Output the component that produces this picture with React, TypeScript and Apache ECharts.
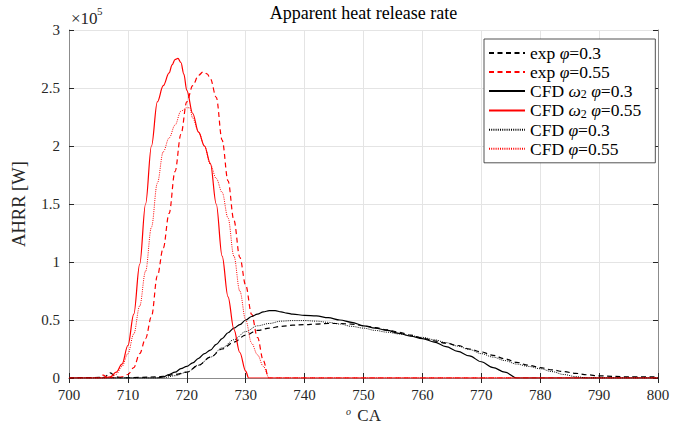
import { useEffect, useRef } from "react";
import * as echarts from "echarts";

// Values in units of 1e5 W, crank angle in degrees
const expLeanX = [700, 706, 707, 708, 709, 712, 715, 716, 718, 720, 722, 724, 726, 728, 730, 732, 734, 736, 738, 740, 742, 744, 746, 748, 750, 752, 754, 756, 758, 760, 762, 764, 766, 768, 770, 772, 774, 776, 778, 780, 782, 784, 786, 788, 790, 795, 800];
const expLeanY = [0, 0.005, 0.045, 0.01, 0, 0.005, 0.01, 0.015, 0.03, 0.05, 0.11, 0.18, 0.25, 0.31, 0.37, 0.41, 0.43, 0.445, 0.455, 0.46, 0.465, 0.47, 0.47, 0.465, 0.45, 0.435, 0.415, 0.395, 0.37, 0.345, 0.32, 0.3, 0.28, 0.25, 0.225, 0.195, 0.165, 0.135, 0.11, 0.09, 0.07, 0.055, 0.04, 0.028, 0.018, 0.01, 0.01];

const expRichX = [700, 705, 705.8, 706.5, 708, 709, 710, 711, 712, 713, 714, 715, 716, 717, 718, 719, 720, 721, 722, 722.8, 723.5, 724, 725, 726, 727, 728, 729, 730, 731, 732, 733, 733.9, 800];
const expRichY = [0, 0, 0.025, 0.005, 0, 0.01, 0.03, 0.09, 0.21, 0.34, 0.53, 0.88, 1.12, 1.42, 1.78, 2.1, 2.38, 2.52, 2.61, 2.64, 2.62, 2.58, 2.42, 2.05, 1.7, 1.36, 1.04, 0.8, 0.55, 0.35, 0.15, 0, 0];

const cfdW2LeanX = [700, 715, 716, 717, 718, 719, 720, 721, 722, 723, 724, 725, 726, 727, 728, 729, 730, 731, 732, 733, 734, 735, 736, 737, 738, 740, 742, 744, 746, 748, 750, 752, 754, 756, 758, 760, 762, 764, 766, 768, 770, 772, 774, 776, 800];
const cfdW2LeanY = [0, 0, 0.01, 0.03, 0.05, 0.08, 0.1, 0.13, 0.17, 0.21, 0.24, 0.29, 0.34, 0.39, 0.43, 0.46, 0.5, 0.53, 0.55, 0.57, 0.58, 0.58, 0.57, 0.56, 0.55, 0.54, 0.535, 0.52, 0.5, 0.48, 0.45, 0.43, 0.41, 0.385, 0.36, 0.34, 0.31, 0.27, 0.23, 0.19, 0.14, 0.09, 0.05, 0, 0];

const cfdW2RichX = [700, 706, 707, 708, 709, 710, 711, 712, 713, 714, 715, 716, 717, 717.5, 718, 718.5, 719, 719.5, 720, 721, 722, 723, 724, 725, 726, 727, 728, 729, 730, 730.5, 800];
const cfdW2RichY = [0, 0, 0.01, 0.05, 0.12, 0.28, 0.55, 0.98, 1.5, 2.0, 2.38, 2.52, 2.63, 2.7, 2.745, 2.755, 2.72, 2.62, 2.48, 2.28, 2.12, 2.0, 1.85, 1.5, 1.05, 0.7, 0.42, 0.22, 0.06, 0, 0];

const cfdLeanX = [700, 716, 718, 720, 722, 724, 726, 728, 730, 732, 734, 736, 738, 740, 742, 744, 746, 748, 750, 752, 754, 756, 758, 760, 762, 764, 766, 768, 770, 772, 774, 776, 778, 780, 782, 784, 786, 788, 800];
const cfdLeanY = [0, 0, 0.02, 0.05, 0.11, 0.18, 0.26, 0.33, 0.4, 0.45, 0.47, 0.49, 0.495, 0.495, 0.49, 0.48, 0.465, 0.445, 0.43, 0.41, 0.395, 0.38, 0.365, 0.35, 0.33, 0.305, 0.275, 0.245, 0.21, 0.18, 0.15, 0.12, 0.1, 0.08, 0.055, 0.03, 0.012, 0, 0];

const cfdRichX = [700, 707, 708, 709, 710, 711, 712, 713, 714, 715, 716, 717, 718, 719, 720, 720.5, 721, 722, 723, 724, 725, 726, 727, 728, 729, 730, 731, 732, 733, 734, 800];
const cfdRichY = [0, 0, 0.03, 0.1, 0.21, 0.38, 0.62, 0.92, 1.3, 1.68, 1.95, 2.07, 2.18, 2.3, 2.33, 2.33, 2.24, 2.12, 2.0, 1.84, 1.72, 1.6, 1.38, 1.05, 0.75, 0.5, 0.3, 0.2, 0.1, 0, 0];

const seriesNames = [
  "exp φ=0.3",
  "exp φ=0.55",
  "CFD ω2 φ=0.3",
  "CFD ω2 φ=0.55",
  "CFD φ=0.3",
  "CFD φ=0.55",
];
const legendRich: Record<string, string> = {
  "exp φ=0.3": "{t|exp }{g|φ}{t|=0.3}",
  "exp φ=0.55": "{t|exp }{g|φ}{t|=0.55}",
  "CFD ω2 φ=0.3": "{t|CFD }{g|ω}{s|2}{t| }{g|φ}{t|=0.3}",
  "CFD ω2 φ=0.55": "{t|CFD }{g|ω}{s|2}{t| }{g|φ}{t|=0.55}",
  "CFD φ=0.3": "{t|CFD }{g|φ}{t|=0.3}",
  "CFD φ=0.55": "{t|CFD }{g|φ}{t|=0.55}",
};

const xTicks = { min: 700, max: 800, interval: 10 };
const yTicks = { min: 0, max: 3, interval: 0.5 };

const FONT = "'Liberation Serif', 'Times New Roman', serif";

function zip(xs: number[], ys: number[]) {
  return xs.map((x, i) => [x, ys[i]]);
}

export default function App() {
  const ref = useRef<HTMLDivElement>(null);
  useEffect(() => {
    if (!ref.current) return;
    const chart = echarts.init(ref.current, null, { renderer: "svg" });
    const axisLineStyle = { color: "#8c8c8c", width: 1 };
    const tickStyle = { color: "#262626", width: 1 };
    const dashed = [5, 3.5];
    const dotted = [1, 1.2];
    const mk = (name: string, xs: number[], ys: number[], color: string, type: any, width: number) => ({
      name,
      type: "line",
      data: zip(xs, ys),
      symbol: "none",
      smooth: 0.35,
      smoothMonotone: "x",
      lineStyle: { color, type, width },
      itemStyle: { color },
      xAxisIndex: 0,
      yAxisIndex: 0,
    });
    chart.setOption({
      animation: false,
      backgroundColor: "#ffffff",
      grid: { left: 69, right: 28, top: 30, bottom: 46, containLabel: false, outerBoundsMode: "none" },
      xAxis: [
        {
          type: "value",
          ...xTicks,
          position: "bottom",
          axisLine: { show: true, lineStyle: axisLineStyle },
          axisTick: { show: true, inside: true, length: 5, lineStyle: tickStyle },
          axisLabel: { color: "#262626", fontSize: 15, fontFamily: FONT, margin: 9 },
          splitLine: { show: true, lineStyle: { color: "#e4e4e4", width: 1 } },
          name: "{o|o}{t| CA}",
          nameLocation: "middle",
          nameGap: 16,
          nameTextStyle: {
            color: "#262626",
            fontFamily: FONT,
            rich: {
              o: { fontSize: 10, fontStyle: "italic", fontFamily: FONT, verticalAlign: "top", lineHeight: 17, color: "#262626", padding: [0, 2, 0, 0] },
              t: { fontSize: 17, fontFamily: FONT, lineHeight: 17, color: "#262626" },
            },
          },
        },
        {
          type: "value",
          ...xTicks,
          position: "top",
          axisLine: { show: true, lineStyle: axisLineStyle },
          axisTick: { show: true, inside: true, length: 5, lineStyle: tickStyle },
          axisLabel: { show: false },
          splitLine: { show: false },
        },
      ],
      yAxis: [
        {
          type: "value",
          ...yTicks,
          position: "left",
          axisLine: { show: true, lineStyle: axisLineStyle },
          axisTick: { show: true, inside: true, length: 5, lineStyle: tickStyle },
          axisLabel: { color: "#262626", fontSize: 15, fontFamily: FONT, margin: 9 },
          splitLine: { show: true, lineStyle: { color: "#e4e4e4", width: 1 } },
          name: "AHRR [W]",
          nameLocation: "middle",
          nameGap: 41,
          nameTextStyle: { color: "#262626", fontSize: 18.5, fontFamily: FONT },
        },
        {
          type: "value",
          ...yTicks,
          position: "right",
          axisLine: { show: true, lineStyle: axisLineStyle },
          axisTick: { show: true, inside: true, length: 5, lineStyle: tickStyle },
          axisLabel: { show: false },
          splitLine: { show: false },
        },
      ],
      legend: {
        orient: "vertical",
        left: 484,
        top: 39,
        padding: [5, 14, 5, 4],
        itemGap: 1,
        itemWidth: 36,
        itemHeight: 17,
        backgroundColor: "#ffffff",
        borderColor: "#262626",
        borderWidth: 0.8,
        itemStyle: { opacity: 0 },
        data: seriesNames,
        formatter: (n: string) => legendRich[n] || n,
        textStyle: {
          color: "#000",
          fontFamily: FONT,
          fontSize: 17.5,
          rich: {
            t: { fontFamily: FONT, fontSize: 17.5, color: "#000", lineHeight: 18.8 },
            g: { fontFamily: FONT, fontSize: 17.5, fontStyle: "italic", color: "#000", lineHeight: 18.8 },
            s: { fontFamily: FONT, fontSize: 12, color: "#000", verticalAlign: "bottom", lineHeight: 12 },
          },
        },
      },
      graphic: [
        {
          type: "text",
          x: 363.5,
          y: 13,
          style: {
            text: "Apparent heat release rate",
            align: "center",
            verticalAlign: "middle",
            fontFamily: FONT,
            fontSize: 18,
            fill: "#000",
          },
        },
        {
          type: "text",
          x: 71,
          y: 18,
          style: { text: "×10", align: "left", verticalAlign: "middle", fontFamily: FONT, fontSize: 17, fill: "#262626" },
        },
        {
          type: "text",
          x: 97,
          y: 11,
          style: { text: "5", align: "left", verticalAlign: "middle", fontFamily: FONT, fontSize: 11, fill: "#262626" },
        },
      ],
      series: [
        mk(seriesNames[0], expLeanX, expLeanY, "#000000", dashed, 1.2),
        mk(seriesNames[1], expRichX, expRichY, "#ff0000", dashed, 1.2),
        mk(seriesNames[2], cfdW2LeanX, cfdW2LeanY, "#000000", "solid", 1.2),
        mk(seriesNames[3], cfdW2RichX, cfdW2RichY, "#ff0000", "solid", 1.2),
        mk(seriesNames[4], cfdLeanX, cfdLeanY, "#000000", dotted, 1),
        mk(seriesNames[5], cfdRichX, cfdRichY, "#ff0000", dotted, 1),
      ],
    });
    return () => chart.dispose();
  }, []);
  return <div ref={ref} style={{ width: 686, height: 424, position: "absolute", left: 0, top: 0 }} />;
}
